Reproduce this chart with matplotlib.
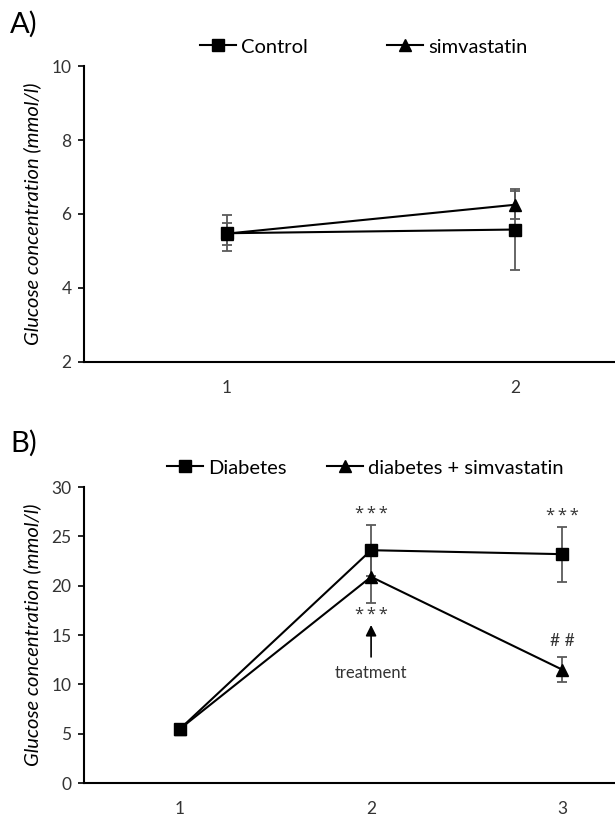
import matplotlib
matplotlib.use('Agg')
import matplotlib.pyplot as plt
from matplotlib.lines import Line2D

plt.rcParams['font.family'] = ['Lato', 'DejaVu Sans']

# panel A
a_x = [1, 2]
a_control = [5.48, 5.58]
a_control_err = [0.48, 1.1]
a_simva = [5.47, 6.25]
a_simva_err = [0.3, 0.38]

# panel B
b_x = [1, 2, 3]
b_diab = [5.5, 23.6, 23.2]
b_diab_err = [0.3, 2.6, 2.8]
b_simva = [5.5, 20.9, 11.5]
b_simva_err = [0.3, 2.7, 1.3]

ylab = 'Glucose concentration (mmol/l)'
errc = '#5a5a5a'
txtc = '#333333'

fig = plt.figure(figsize=(6.15, 8.16), dpi=100)
axA = fig.add_axes([0.1366, 0.5564, 0.8634, 0.3627])
axB = fig.add_axes([0.1366, 0.0404, 0.8634, 0.3627])


def style(ax):
    for s in ['top', 'right']:
        ax.spines[s].set_visible(False)
    for s in ['left', 'bottom']:
        ax.spines[s].set_linewidth(1.5)
    ax.tick_params(axis='y', length=4, width=1.2, pad=5, labelsize=12.5, labelcolor=txtc)
    ax.tick_params(axis='x', length=0, pad=13, labelsize=12.5, labelcolor=txtc)
    ax.set_ylabel(ylab, fontsize=14.5, style='italic')
    ax.yaxis.set_label_coords(-0.08, 0.5)


def series(ax, x, y, e, marker, ms):
    ax.errorbar(x, y, yerr=e, fmt='none', ecolor=errc, elinewidth=1.3, capsize=3.5, capthick=1.3, zorder=2)
    ax.plot(x, y, color='black', lw=1.5, marker=marker, ms=ms, zorder=3)


series(axA, a_x, a_simva, a_simva_err, '^', 8.5)
series(axA, a_x, a_control, a_control_err, 's', 8.5)
axA.set_xlim(0.503, 2.347)
axA.set_ylim(2, 10)
axA.set_yticks([2, 4, 6, 8, 10])
axA.set_xticks(a_x)
style(axA)

series(axB, b_x, b_simva, b_simva_err, '^', 8.5)
series(axB, b_x, b_diab, b_diab_err, 's', 8.5)
axB.set_xlim(0.497, 3.277)
axB.set_ylim(0, 30)
axB.set_yticks([0, 5, 10, 15, 20, 25, 30])
axB.set_xticks(b_x)
style(axB)

# annotations panel B
star = dict(ha='center', va='center', fontsize=12, color=txtc, family=['Open Sans', 'DejaVu Sans'])
axB.text(2, 27.3, '*\u2009*\u2009*', **star)
axB.text(3, 27.1, '*\u2009*\u2009*', **star)
axB.text(2, 17.0, '*\u2009*\u2009*', **star)
axB.text(3, 14.4, '# #', ha='center', va='center', fontsize=12.5, color=txtc)
axB.annotate('', xy=(2, 16.3), xytext=(2, 12.5),
             arrowprops=dict(arrowstyle='-|>', color='black', lw=1.2, mutation_scale=16))
axB.text(2, 11.2, 'treatment', ha='center', va='center', fontsize=12, color=txtc)

# panel letters
fig.text(10 / 615, 1 - 24 / 816, 'A)', fontsize=21, va='center', ha='left')
fig.text(10 / 615, 1 - 443 / 816, 'B)', fontsize=21, va='center', ha='left')


def legend(ax, labels, x0, y0, colsp):
    h = [Line2D([], [], color='black', lw=1.5, marker='s', ms=8.5),
         Line2D([], [], color='black', lw=1.5, marker='^', ms=8.5)]
    leg = ax.legend(h, labels, ncol=2, frameon=False, loc='center left',
                    bbox_to_anchor=(x0 / 615, 1 - y0 / 816), bbox_transform=fig.transFigure,
                    fontsize=14.5, handlelength=1.8, handletextpad=0.25, columnspacing=colsp,
                    borderpad=0, borderaxespad=0)
    return leg


legend(axA, ['Control', 'simvastatin'], 200, 47, 3.9)
legend(axB, ['Diabetes', 'diabetes + simvastatin'], 167, 468, 2.0)

fig.savefig('out.png', dpi=100)
